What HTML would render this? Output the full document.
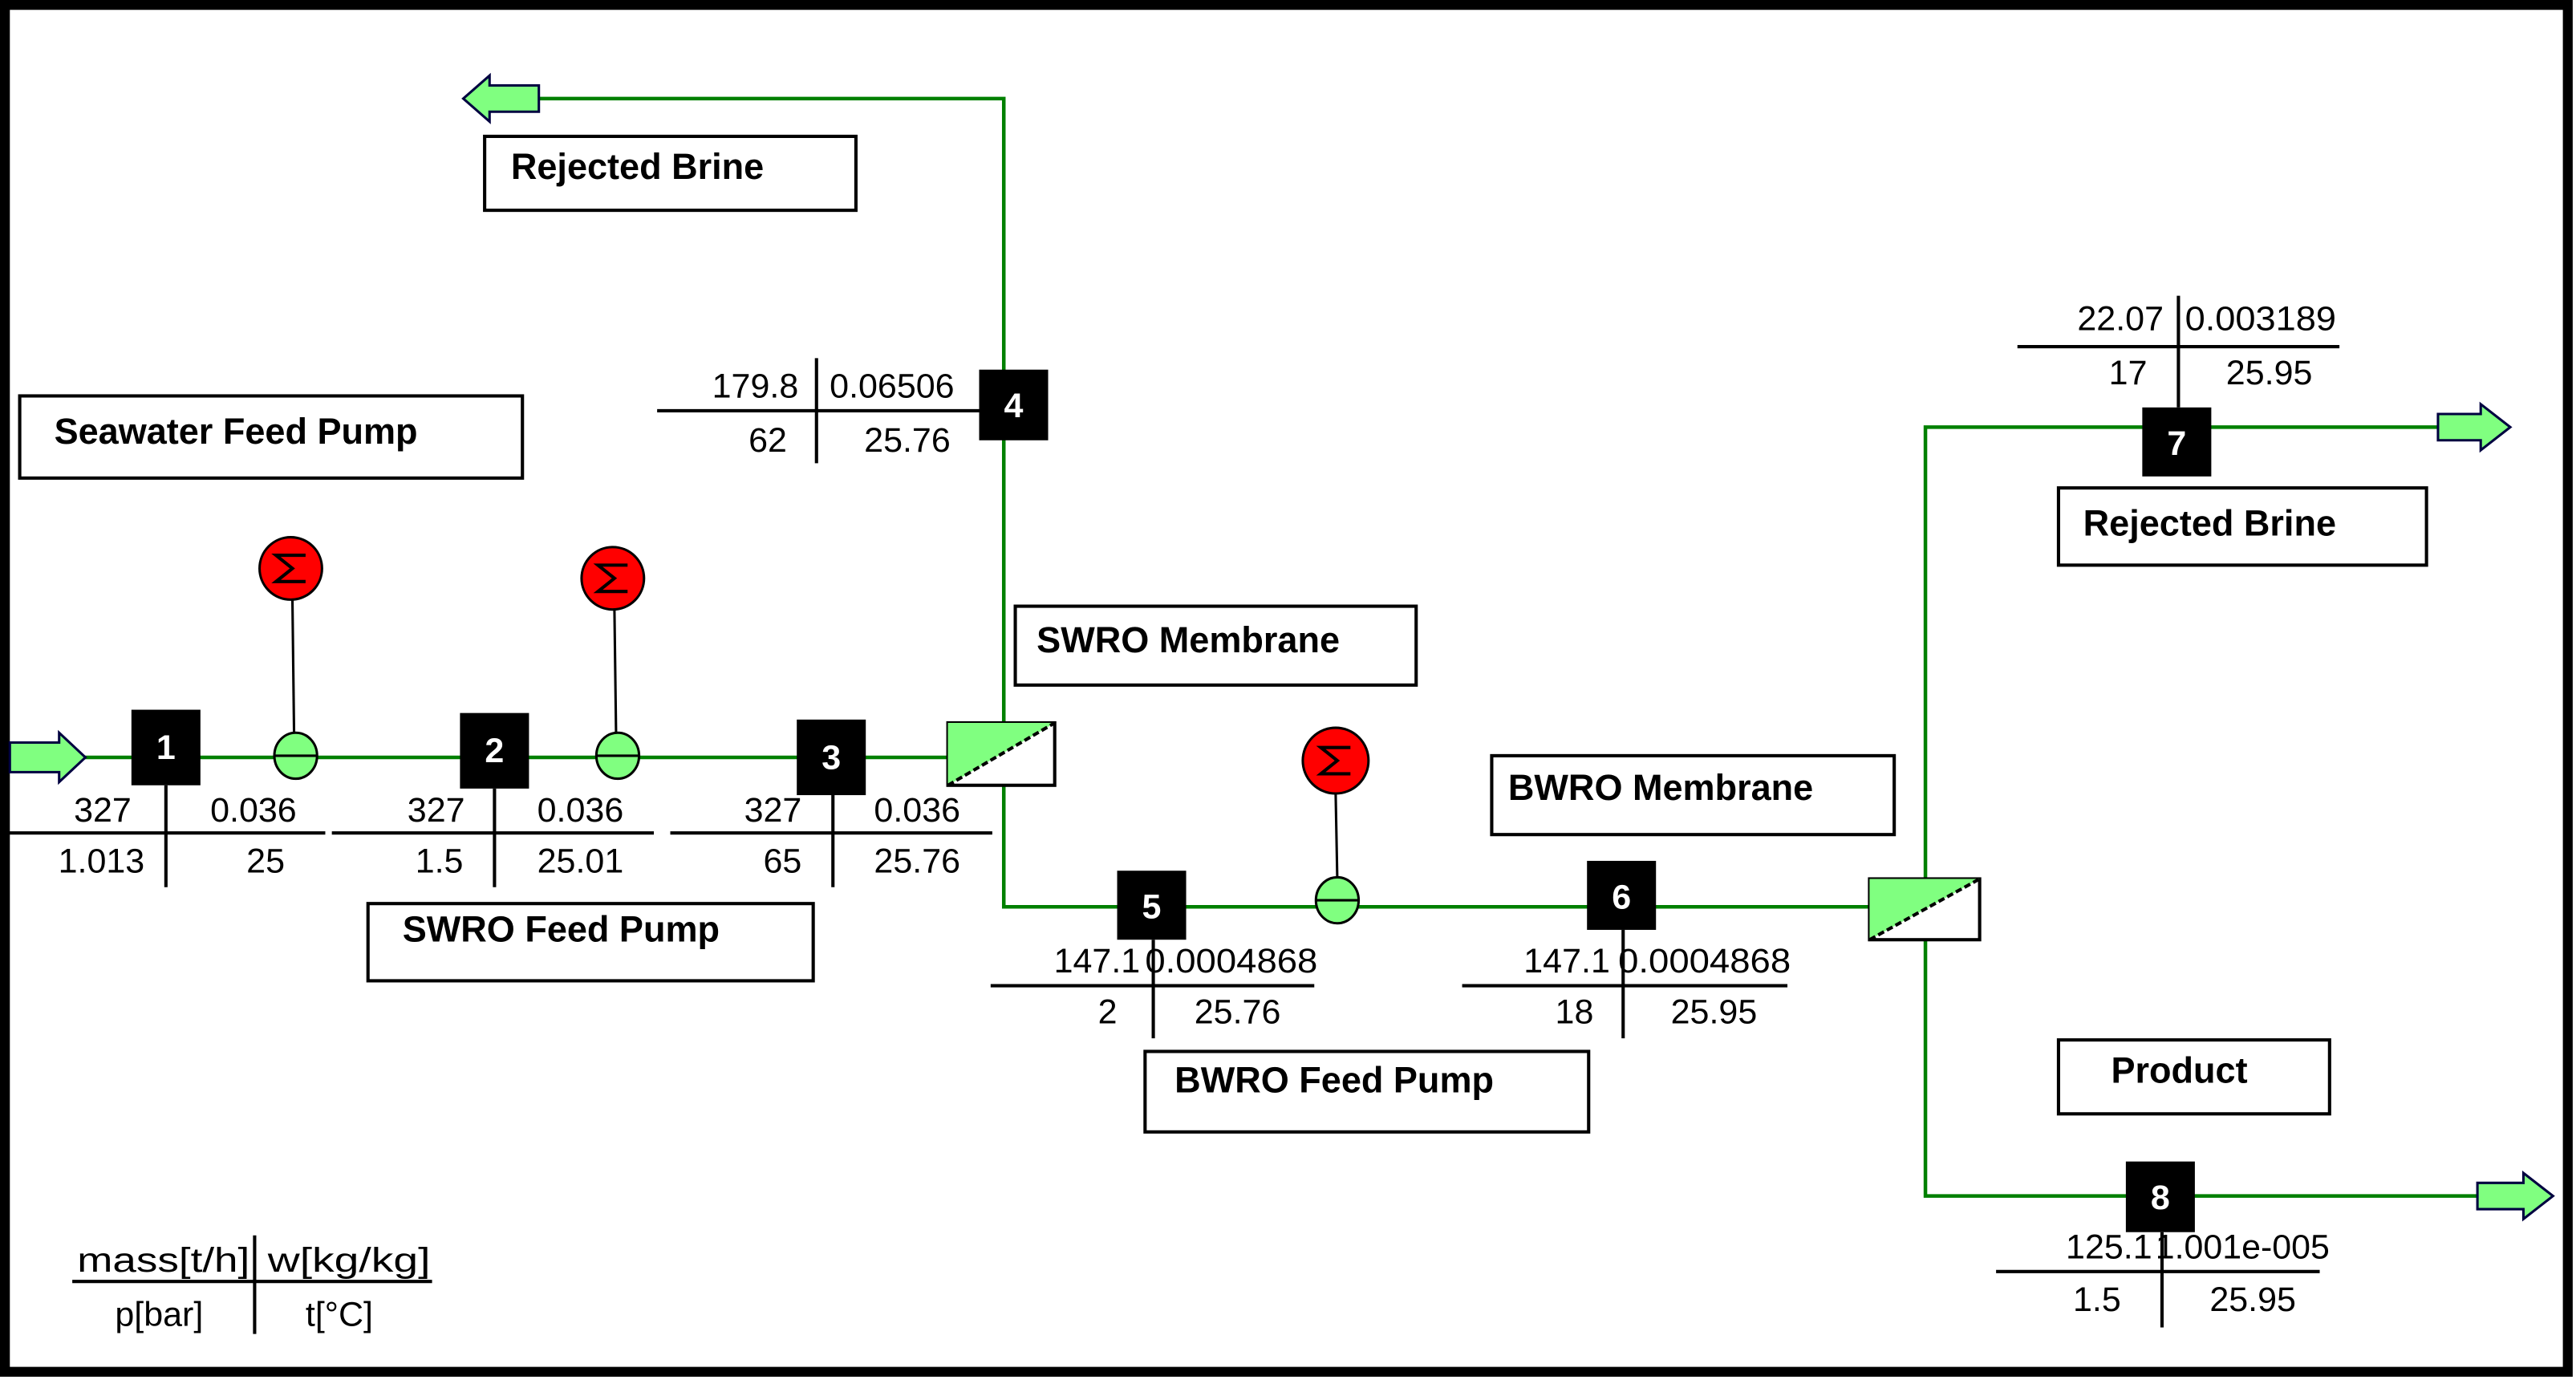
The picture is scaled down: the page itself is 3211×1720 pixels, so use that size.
<!DOCTYPE html>
<html><head><meta charset="utf-8"><style>
html,body{margin:0;padding:0;background:#fff}
svg{display:block}
text{font-family:"Liberation Sans",Arial,sans-serif}
.n{font-size:21px;fill:#000}
.lb{font-size:22px;font-weight:bold;fill:#000}
.nd{font-size:21px;font-weight:bold;fill:#fff}
</style></head><body>
<svg width="3211" height="1720" viewBox="0 0 1568 840" preserveAspectRatio="none" xmlns="http://www.w3.org/2000/svg">
<rect x="0" y="0" width="1568" height="840" fill="#fff"/>
<rect x="3" y="3" width="1560" height="832" fill="none" stroke="#000" stroke-width="6"/>

<!-- green pipes -->
<g stroke="#008000" stroke-width="2.2" fill="none">
<polyline points="50,461 577,461"/>
<polyline points="611,440 611,60 326,60"/>
<polyline points="611,478 611,552 1140,552"/>
<polyline points="1172,535 1172,260 1484,260"/>
<polyline points="1172,572 1172,728 1508,728"/>
</g>

<!-- arrows -->
<g fill="#80ff80" stroke="#000040" stroke-width="1.5">
<polygon points="6,452 36,452 36,446 52,461 36,476 36,470 6,470"/>
<polygon points="328,52 298,52 298,46 282,60 298,74 298,68 328,68"/>
<polygon points="1484,252 1510,252 1510,246 1528,260 1510,274 1510,268 1484,268"/>
<polygon points="1508,720 1536,720 1536,714 1554,728 1536,742 1536,736 1508,736"/>
</g>

<!-- membranes -->
<g stroke="#000" stroke-width="2">
<rect x="577" y="440" width="65" height="38" fill="#fff"/>
<polygon points="577,440 642,440 577,478" fill="#80ff80" stroke="none"/>
<line x1="577" y1="478" x2="642" y2="440" stroke-dasharray="4,2"/>
<rect x="1138" y="535" width="67" height="37" fill="#fff"/>
<polygon points="1138,535 1205,535 1138,572" fill="#80ff80" stroke="none"/>
<line x1="1138" y1="572" x2="1205" y2="535" stroke-dasharray="4,2"/>
</g>

<!-- pump/motor connectors -->
<g stroke="#000" stroke-width="1.5">
<line x1="178" y1="365" x2="179" y2="447"/>
<line x1="374" y1="371" x2="375" y2="447"/>
<line x1="813" y1="483" x2="814" y2="535"/>
</g>
<!-- red motors -->
<g fill="#ff0000" stroke="#000" stroke-width="1.5">
<ellipse cx="177" cy="346" rx="19" ry="19"/>
<ellipse cx="373" cy="352" rx="19" ry="19"/>
<ellipse cx="813" cy="463" rx="20" ry="20"/>
</g>
<g fill="none" stroke="#000" stroke-width="2">
<polyline points="186,338 168,338 178,346 168,354 186,354"/>
<polyline points="382,344 364,344 374,352 364,360 382,360"/>
<polyline points="822,455 804,455 814,463 804,471 822,471"/>
</g>
<!-- pumps -->
<g fill="#80ff80" stroke="#000" stroke-width="1.5">
<ellipse cx="180" cy="460" rx="13" ry="14"/>
<ellipse cx="376" cy="460" rx="13" ry="14"/>
<ellipse cx="814" cy="548" rx="13" ry="14"/>
</g>
<g stroke="#000" stroke-width="1.5">
<line x1="167" y1="460" x2="193" y2="460"/>
<line x1="363" y1="460" x2="389" y2="460"/>
<line x1="801" y1="548" x2="827" y2="548"/>
</g>

<!-- table lines -->
<g stroke="#000" stroke-width="2">
<line x1="5" y1="507" x2="198" y2="507"/><line x1="101" y1="478" x2="101" y2="540"/>
<line x1="202" y1="507" x2="398" y2="507"/><line x1="301" y1="480" x2="301" y2="540"/>
<line x1="408" y1="507" x2="604" y2="507"/><line x1="507" y1="484" x2="507" y2="540"/>
<line x1="400" y1="250" x2="596" y2="250"/><line x1="497" y1="218" x2="497" y2="282"/>
<line x1="603" y1="600" x2="800" y2="600"/><line x1="702" y1="572" x2="702" y2="632"/>
<line x1="890" y1="600" x2="1088" y2="600"/><line x1="988" y1="566" x2="988" y2="632"/>
<line x1="1228" y1="211" x2="1424" y2="211"/><line x1="1326" y1="180" x2="1326" y2="248"/>
<line x1="1215" y1="774" x2="1412" y2="774"/><line x1="1316" y1="750" x2="1316" y2="808"/>
<line x1="44" y1="780" x2="263" y2="780"/><line x1="155" y1="752" x2="155" y2="812"/>
</g>

<!-- node boxes -->
<g fill="#000">
<rect x="80" y="432" width="42" height="46"/>
<rect x="280" y="434" width="42" height="46"/>
<rect x="485" y="438" width="42" height="46"/>
<rect x="596" y="225" width="42" height="43"/>
<rect x="680" y="530" width="42" height="42"/>
<rect x="966" y="524" width="42" height="42"/>
<rect x="1304" y="248" width="42" height="42"/>
<rect x="1294" y="707" width="42" height="43"/>
</g>
<g class="nd" text-anchor="middle">
<text x="101" y="462">1</text>
<text x="301" y="464">2</text>
<text x="506" y="468">3</text>
<text x="617" y="254">4</text>
<text x="701" y="559">5</text>
<text x="987" y="553">6</text>
<text x="1325" y="277">7</text>
<text x="1315" y="736">8</text>
</g>

<!-- label boxes -->
<g fill="#fff" stroke="#000" stroke-width="2">
<rect x="295" y="83" width="226" height="45"/>
<rect x="12" y="241" width="306" height="50"/>
<rect x="618" y="369" width="244" height="48"/>
<rect x="224" y="550" width="271" height="47"/>
<rect x="908" y="460" width="245" height="48"/>
<rect x="697" y="640" width="270" height="49"/>
<rect x="1253" y="297" width="224" height="47"/>
<rect x="1253" y="633" width="165" height="45"/>
</g>
<g class="lb">
<text x="311" y="109">Rejected Brine</text>
<text x="33" y="270">Seawater Feed Pump</text>
<text x="631" y="397">SWRO Membrane</text>
<text x="245" y="573">SWRO Feed Pump</text>
<text x="918" y="487">BWRO Membrane</text>
<text x="715" y="665">BWRO Feed Pump</text>
<text x="1268" y="326">Rejected Brine</text>
<text x="1285" y="659">Product</text>
</g>

<!-- numbers -->
<g class="n">
<text x="80" y="500" text-anchor="end">327</text>
<text x="128" y="500">0.036</text>
<text x="88" y="531" text-anchor="end">1.013</text>
<text x="150" y="531">25</text>
<text x="283" y="500" text-anchor="end">327</text>
<text x="327" y="500">0.036</text>
<text x="282" y="531" text-anchor="end">1.5</text>
<text x="327" y="531">25.01</text>
<text x="488" y="500" text-anchor="end">327</text>
<text x="532" y="500">0.036</text>
<text x="488" y="531" text-anchor="end">65</text>
<text x="532" y="531">25.76</text>
<text x="486" y="242" text-anchor="end">179.8</text>
<text x="505" y="242">0.06506</text>
<text x="479" y="275" text-anchor="end">62</text>
<text x="526" y="275">25.76</text>
<text x="694" y="592" text-anchor="end">147.1</text>
<text x="697" y="592" textLength="105" lengthAdjust="spacingAndGlyphs">0.0004868</text>
<text x="680" y="623" text-anchor="end">2</text>
<text x="727" y="623">25.76</text>
<text x="980" y="592" text-anchor="end">147.1</text>
<text x="985" y="592" textLength="105" lengthAdjust="spacingAndGlyphs">0.0004868</text>
<text x="970" y="623" text-anchor="end">18</text>
<text x="1017" y="623">25.95</text>
<text x="1317" y="201" text-anchor="end">22.07</text>
<text x="1330" y="201" textLength="92" lengthAdjust="spacingAndGlyphs">0.003189</text>
<text x="1307" y="234" text-anchor="end">17</text>
<text x="1355" y="234">25.95</text>
<text x="1310" y="766" text-anchor="end">125.1</text>
<text x="1312" y="766" textLength="106" lengthAdjust="spacingAndGlyphs">1.001e-005</text>
<text x="1291" y="798" text-anchor="end">1.5</text>
<text x="1345" y="798">25.95</text>
<text x="47" y="774" textLength="105" lengthAdjust="spacingAndGlyphs">mass[t/h]</text>
<text x="163" y="774" textLength="99" lengthAdjust="spacingAndGlyphs">w[kg/kg]</text>
<text x="70" y="807">p[bar]</text>
<text x="186" y="807">t[°C]</text>
</g>
</svg>
</body></html>
